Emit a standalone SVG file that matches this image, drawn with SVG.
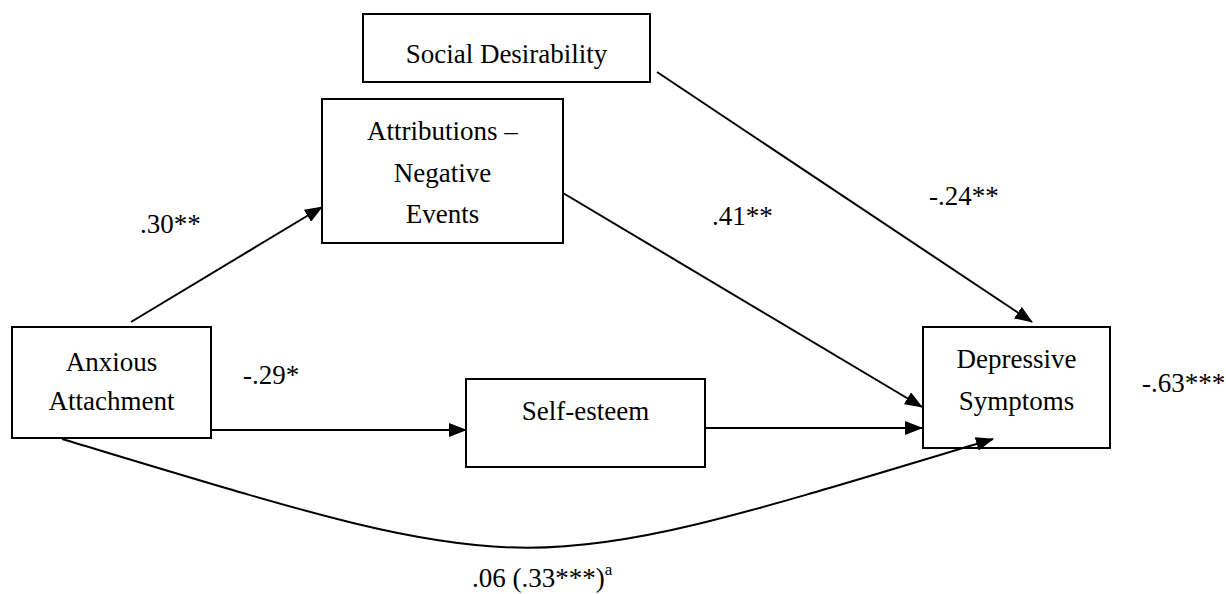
<svg xmlns="http://www.w3.org/2000/svg" width="1226" height="594" viewBox="0 0 1226 594">
<defs>
<style>
.box{fill:#fff;stroke:#000;stroke-width:2}
.lbl{font-size:27px;fill:#000}
.mid{text-anchor:middle}
.con{fill:none;stroke:#000;stroke-width:2}
</style>
<marker id="arr" markerUnits="userSpaceOnUse" markerWidth="18" markerHeight="14" refX="17" refY="7" orient="auto" viewBox="0 0 18 14">
<path d="M0,0 L18,7 L0,14 z" fill="#000"/>
</marker>
</defs>
<rect width="1226" height="594" fill="#fff"/>
<g font-family="'Liberation Serif', 'Times New Roman', 'DejaVu Serif', serif">
<g id="social-desirability">
<rect class="box" x="363" y="14" width="287" height="68"/>
<text class="lbl mid" x="506.5" y="63">Social Desirability</text>
</g>
<g id="attributions">
<rect class="box" x="322" y="99" width="241" height="144"/>
<text class="lbl mid" x="442.5" y="140">Attributions –</text>
<text class="lbl mid" x="442.5" y="182">Negative</text>
<text class="lbl mid" x="442.5" y="223">Events</text>
</g>
<g id="anxious-attachment">
<rect class="box" x="12" y="327" width="199" height="111"/>
<text class="lbl mid" x="111.5" y="371">Anxious</text>
<text class="lbl mid" x="111.5" y="410">Attachment</text>
</g>
<g id="self-esteem">
<rect class="box" x="466" y="379" width="239" height="88"/>
<text class="lbl mid" x="585.5" y="420">Self-esteem</text>
</g>
<g id="depressive-symptoms">
<rect class="box" x="923" y="327" width="187" height="121"/>
<text class="lbl mid" x="1016.5" y="368">Depressive</text>
<text class="lbl mid" x="1016.5" y="410">Symptoms</text>
</g>
<g id="labels">
<text class="lbl" x="140" y="233">.30**</text>
<text class="lbl" x="243" y="384">-.29*</text>
<text class="lbl" x="712" y="225">.41**</text>
<text class="lbl" x="929" y="205">-.24**</text>
<text class="lbl" x="1142" y="392">-.63***</text>
<text class="lbl" x="472" y="587">.06 (.33***)<tspan font-size="17" dy="-12">a</tspan></text>
</g>
</g>
<g id="connectors">
<line class="con" x1="131" y1="322" x2="322" y2="207" marker-end="url(#arr)"/>
<line class="con" x1="211" y1="430" x2="466" y2="430" marker-end="url(#arr)"/>
<line class="con" x1="705" y1="428" x2="922" y2="428" marker-end="url(#arr)"/>
<line class="con" x1="563" y1="193" x2="922" y2="407" marker-end="url(#arr)"/>
<line class="con" x1="657" y1="72" x2="1032" y2="322" marker-end="url(#arr)"/>
<path class="con" d="M62,439 C545,584 510,584 993,439" marker-end="url(#arr)"/>
</g>
</svg>
